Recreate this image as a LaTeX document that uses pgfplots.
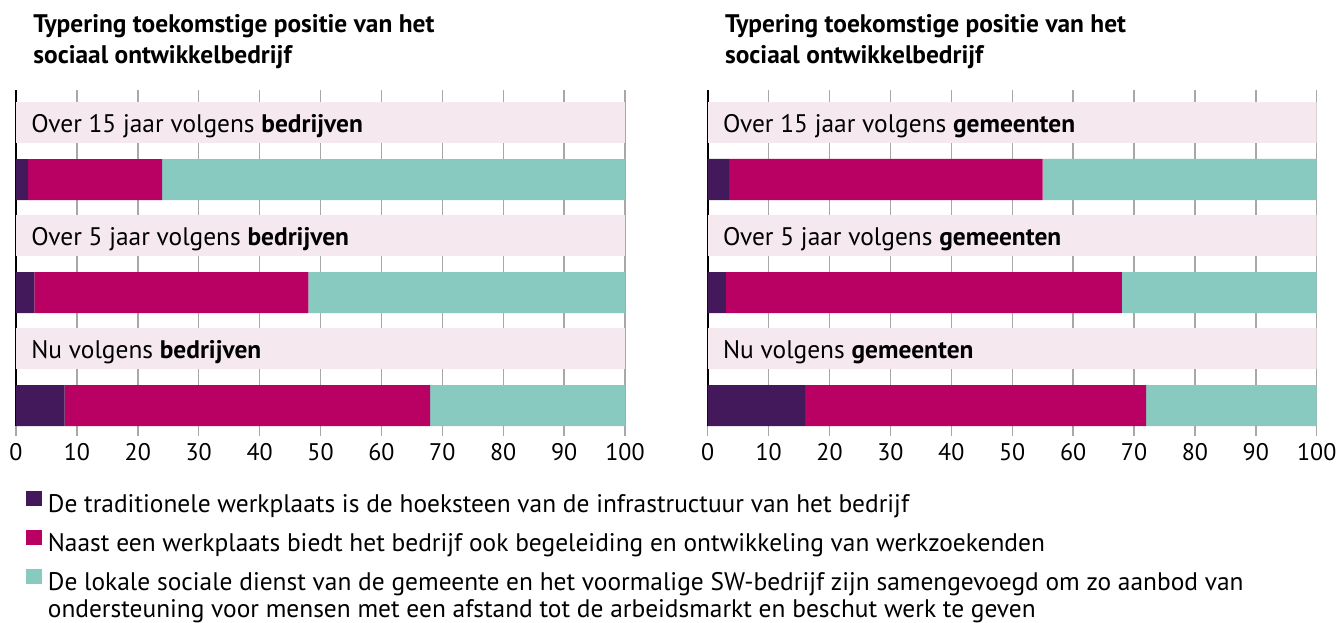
\documentclass[border=0pt]{standalone}
\usepackage{fontspec}
\setmainfont{PT Sans}
\usepackage{pgfplots}
\pgfplotsset{compat=1.18}
\definecolor{cPurple}{HTML}{44195C}
\definecolor{cMagenta}{HTML}{B90063}
\definecolor{cTeal}{HTML}{88CAC0}
\definecolor{cBand}{HTML}{F5E8EF}
\definecolor{cGrid}{HTML}{A8A8A8}
\newcommand{\lblfont}{\fontsize{12.7}{14}\selectfont}
\pgfplotsset{panel/.style={
  xbar stacked, scale only axis, width=304.5pt, height=168pt,
  xmin=0, xmax=100, ymin=0, ymax=336,
  axis x line*=bottom, axis y line*=left,
  x axis line style={draw=none},
  y axis line style={black, line width=0.8pt},
  xtick={0,10,...,100}, ytick=\empty,
  extra x ticks={0}, extra x tick labels={},
  extra x tick style={grid=none, tick style={black, line width=0.8pt}},
  xmajorgrids, grid style={cGrid, line width=0.7pt},
  major tick length=5pt, tick align=outside,
  xtick style={cGrid, line width=0.7pt},
  /pgf/number format/assume math mode=true,
  ticklabel style={font=\fontsize{12}{14}\selectfont},
  bar width=20.5pt,
  title={Typering toekomstige positie van het\\sociaal ontwikkelbedrijf},
  title style={at={(0,1)}, anchor=north west, align=left, inner sep=0pt,
    xshift=8.5pt, yshift=32pt, font=\bfseries\fontsize{12.7}{15.5}\selectfont},
  legend image code/.code={\fill[#1] (0pt,0pt) rectangle (7.75pt,7.5pt);},
}}
\tikzset{lbl/.style={anchor=base west, inner sep=0pt, font=\lblfont}}
\begin{document}
\begin{tikzpicture}
\useasboundingbox (-8pt,-98pt) rectangle (661.5pt,213pt);
\begin{axis}[panel, name=L,
  legend style={at={(0,0)}, anchor=north west, xshift=5pt, yshift=-32.5pt,
    draw=none, fill=none, inner sep=0pt, row sep=6.5pt, column sep=3pt,
    font=\lblfont, nodes={inner sep=0pt, text height=8.5pt, text depth=2.5pt}},
  legend cell align=left]
\fill[cBand] (axis cs:0,283) rectangle (axis cs:100,324);
\fill[cBand] (axis cs:0,170) rectangle (axis cs:100,211);
\fill[cBand] (axis cs:0,57) rectangle (axis cs:100,98);
\addplot[fill=cPurple, draw=none] coordinates {(2,246.5) (3,133.5) (8,20.5)};
\addplot[fill=cMagenta, draw=none] coordinates {(22,246.5) (45,133.5) (60,20.5)};
\addplot[fill=cTeal, draw=none] coordinates {(76,246.5) (52,133.5) (32,20.5)};
\addlegendentry{De traditionele werkplaats is de hoeksteen van de infrastructuur van het bedrijf}
\addlegendentry{Naast een werkplaats biedt het bedrijf ook begeleiding en ontwikkeling van werkzoekenden}
\addlegendentry{\vtop{\baselineskip=13.5pt\hbox{De lokale sociale dienst van de gemeente en het voormalige SW-bedrijf zijn samengevoegd om zo aanbod van}\hbox{ondersteuning voor mensen met een afstand tot de arbeidsmarkt en beschut werk te geven}}}
\end{axis}
\begin{axis}[panel, name=R, at={(345.85pt,0pt)}]
\fill[cBand] (axis cs:0,283) rectangle (axis cs:100,324);
\fill[cBand] (axis cs:0,170) rectangle (axis cs:100,211);
\fill[cBand] (axis cs:0,57) rectangle (axis cs:100,98);
\addplot[fill=cPurple, draw=none] coordinates {(3.5,246.5) (3,133.5) (16,20.5)};
\addplot[fill=cMagenta, draw=none] coordinates {(51.5,246.5) (65,133.5) (56,20.5)};
\addplot[fill=cTeal, draw=none] coordinates {(45,246.5) (32,133.5) (28,20.5)};
\end{axis}
\node[lbl] at ([xshift=7.5pt, yshift=146.85pt]L.south west) {Over 15 jaar volgens \textbf{bedrijven}};
\node[lbl] at ([xshift=7.5pt, yshift=90.35pt]L.south west) {Over 5 jaar volgens \textbf{bedrijven}};
\node[lbl] at ([xshift=7.5pt, yshift=33.85pt]L.south west) {Nu volgens \textbf{bedrijven}};
\node[lbl] at ([xshift=7.5pt, yshift=146.85pt]R.south west) {Over 15 jaar volgens \textbf{gemeenten}};
\node[lbl] at ([xshift=7.5pt, yshift=90.35pt]R.south west) {Over 5 jaar volgens \textbf{gemeenten}};
\node[lbl] at ([xshift=7.5pt, yshift=33.85pt]R.south west) {Nu volgens \textbf{gemeenten}};
\end{tikzpicture}
\end{document}
